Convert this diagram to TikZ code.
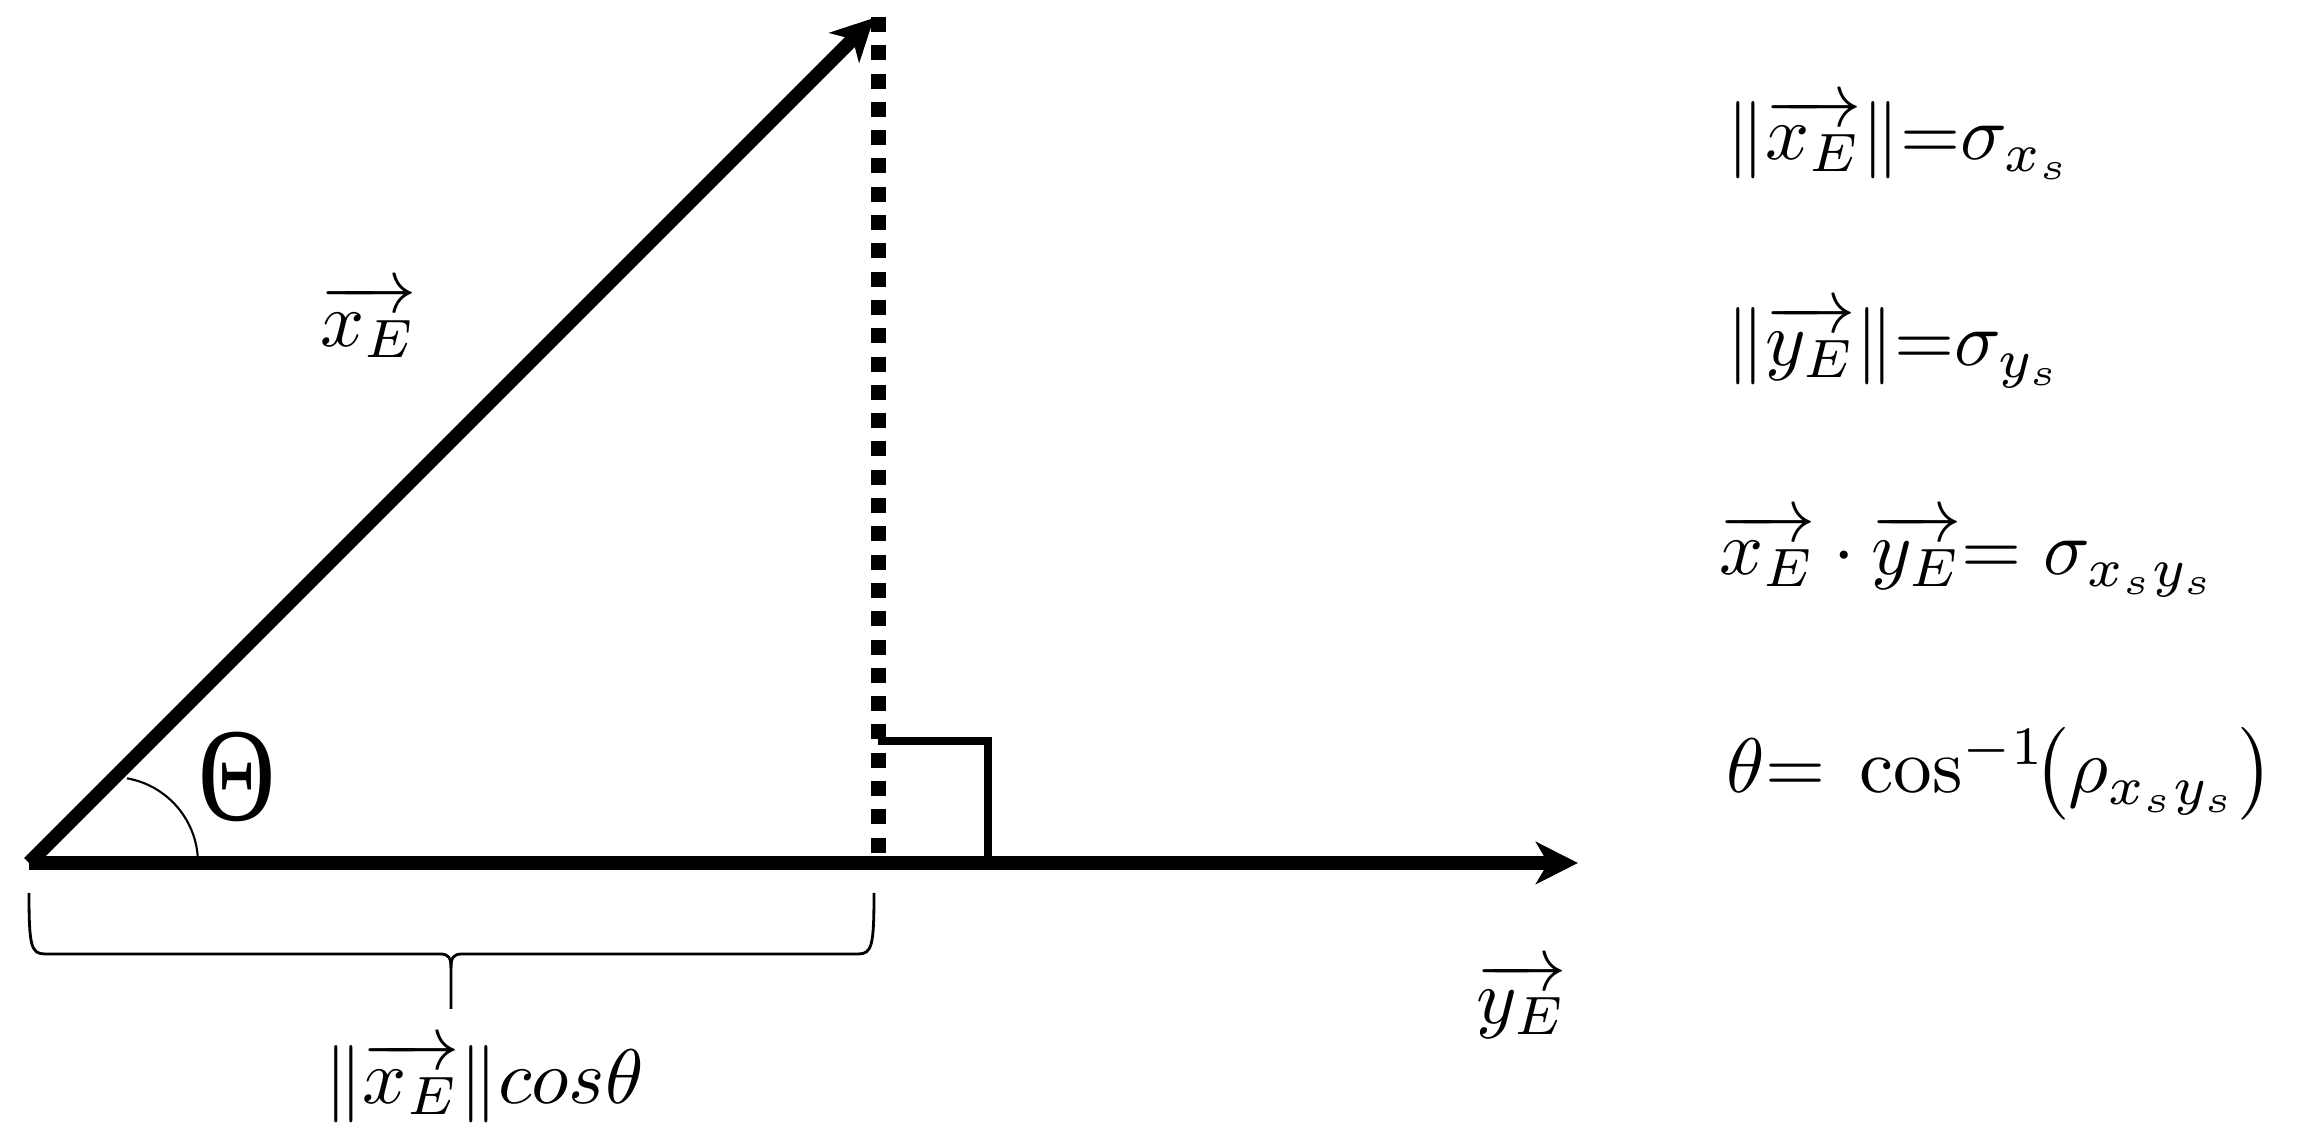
\documentclass[tikz,border=0pt]{standalone}
\usepackage{amsmath}
\usepackage{fontspec}
\newfontfamily\thetafont{Liberation Serif}
\usetikzlibrary{arrows.meta}
\usetikzlibrary{positioning}
\tikzset{
    vecedge/.style = {-{Stealth[length=0.42cm,width=0.42cm,inset=0.12cm]},line width=0.14cm},
    dotedge/.style = {line width=0.15cm,dash pattern=on 0.15cm off 0.133cm},
    rightmark/.style = {line width=0.08cm},
    anglearc/.style = {line width=0.6pt},
    bracelin/.style = {line width=0.8pt},
    mylabel/.style = {inner sep=0pt,scale=2.2},
    myeq/.style = {inner sep=0pt,anchor=base west,scale=2.2},
    mytheta/.style = {inner sep=0pt,xscale=0.8,font=\thetafont\fontsize{38}{40}\selectfont}
}

\begin{document}
\begin{tikzpicture}
\path[use as bounding box] (0,0) rectangle (23.02,11.46);
%
\coordinate (o) at (0.29,2.83);
\coordinate (y) at (15.78,2.83);
\coordinate (x) at (8.74,11.28);
\coordinate (t) at (8.78,11.29);
\coordinate (f) at (8.78,2.83);
\coordinate (ra) at (8.78,4.05);
\coordinate (rb) at (9.88,4.05);
\coordinate (rc) at (9.88,2.83);
\coordinate (a) at (1.98,2.83);
%
\draw[dotedge] (t) -- (f);
\draw[rightmark] (ra) -- (rb) -- (rc);
\draw[vecedge] (o) -- (y);
\draw[vecedge] (o) -- (x);
\draw[anglearc] (a) arc[start angle=0,end angle=80,radius=0.86];
%
\coordinate (bl) at (0.29,2.53);
\coordinate (br) at (8.74,2.53);
\coordinate (bt) at (4.51,1.37);
\draw[bracelin] (bl) .. controls (0.29,2.0) and (0.31,1.92) .. (0.45,1.92) -- (4.40,1.92)
    .. controls (4.49,1.92) and (4.51,1.88) .. (4.51,1.78) -- (bt);
\draw[bracelin] (br) .. controls (8.74,2.0) and (8.72,1.92) .. (8.58,1.92) -- (4.62,1.92)
    .. controls (4.53,1.92) and (4.51,1.88) .. (4.51,1.78);
%
\node[mylabel] (xl) at (3.69,8.25) {$\overrightarrow{x_E}$};
\node[mylabel] (yl) at (15.22,1.46) {$\overrightarrow{y_E}$};
\node[mytheta] (th) at (2.37,3.69) {Θ};
\node[mylabel] (cl) at (4.84,0.64) {$\|\overrightarrow{x_E}\|cos\theta$};
%
\node[myeq] (e1) at (17.25,9.86) {$\|\overrightarrow{x_E}\|{=}\sigma_{x_s}$};
\node[myeq] (e2) at (17.25,7.80) {$\|\overrightarrow{y_E}\|{=}\sigma_{y_s}$};
\node[myeq] (e3) at (17.18,5.71) {$\overrightarrow{x_E}\cdot\overrightarrow{y_E}{=}\;\sigma_{x_sy_s}$};
\node[myeq] (e4) at (17.25,3.53) {$\theta{=}\;\cos^{-1}\!\bigl(\rho_{x_sy_s}\bigr)$};

\end{tikzpicture}
\end{document}
